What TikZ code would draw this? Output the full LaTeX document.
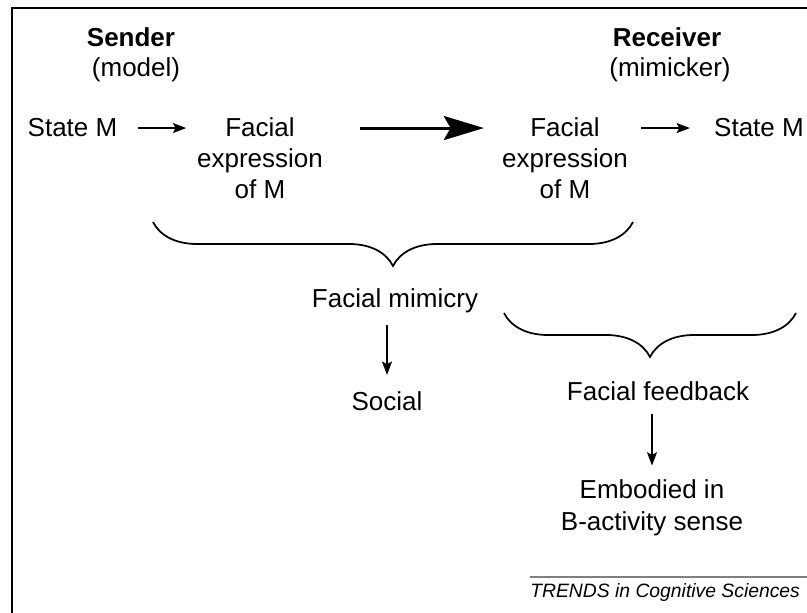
\documentclass[tikz,border=0pt]{standalone}
\usepackage{fontspec}
\setmainfont{Liberation Sans}
\usetikzlibrary{arrows.meta,decorations.pathreplacing}
\newcommand{\lbl}{\fontsize{19.5pt}{23.5pt}\selectfont}
\begin{document}
\begin{tikzpicture}[x=0.75pt, y=-0.75pt, >={Stealth[length=10pt, width=7.5pt, inset=2pt]},
		every node/.style={font=\lbl, inner sep=0pt},
		flow/.style={->, line width=1.1pt},
		curly/.style={decorate, line width=1.3pt,
			decoration={brace, amplitude=33pt}}]
	\useasboundingbox (0,0) rectangle (807,613);
	\draw[line width=1.5pt] (12,613) -- (12,8) -- (807,8);
	% who sends and who copies
	\node[anchor=base, font=\lbl\bfseries] (sender) at (131,47) {Sender};
	\node[anchor=base] (model) at (136,77) {(model)};
	\node[anchor=base, font=\lbl\bfseries] (receiver) at (667,47) {Receiver};
	\node[anchor=base] (mimicker) at (670,77) {(mimicker)};
	% top row (base = last line)
	\node[anchor=base] (stateL) at (72.5,137) {State M};
	\node[anchor=base, align=center] (faceL) at (260,199) {Facial\\expression\\of M};
	\node[anchor=base, align=center] (faceR) at (565,199) {Facial\\expression\\of M};
	\node[anchor=base] (stateR) at (759,137) {State M};
	\draw[flow, shorten <=15pt, shorten >=8pt] (stateL.east)
		-- (stateL.east -| faceL.west);
	\draw[->, line width=2.2pt, >={Stealth[length=30pt, width=18pt, inset=5pt]},
		shorten <=27.75pt, shorten >=13.5pt] (stateL.east -| faceL.east)
		-- (stateL.east -| faceR.west);
	\draw[flow, shorten <=9.75pt, shorten >=18pt] (stateL.east -| faceR.east)
		-- (stateR.west);
	% braces
	\draw[curly] (633,222) -- (153,222);
	\draw[curly] (796,313) -- (504,313);
	\node[anchor=base] (mimicry) at (395,307) {Facial mimicry};
	\node[anchor=base] (social) at (387,410) {Social};
	\node[anchor=base] (feedback) at (658,400) {Facial feedback};
	\node[anchor=base, align=center] (embodied) at (652,530)
		{Embodied in\\B-activity sense};
	\draw[flow, shorten <=9.4pt, shorten >=12pt] (mimicry.south -| social.north)
		-- (social.north);
	\draw[flow, shorten <=9.75pt, shorten >=10.5pt] (feedback.south -| embodied.north)
		-- (embodied.north);
	% journal tag
	\draw[gray, line width=1.5pt] (530,577) -- (807,577);
	\node[anchor=base west, font=\fontsize{14.5pt}{17pt}\selectfont\itshape] (trends)
		at (530,597) {TRENDS in Cognitive Sciences};
\end{tikzpicture}
\end{document}
